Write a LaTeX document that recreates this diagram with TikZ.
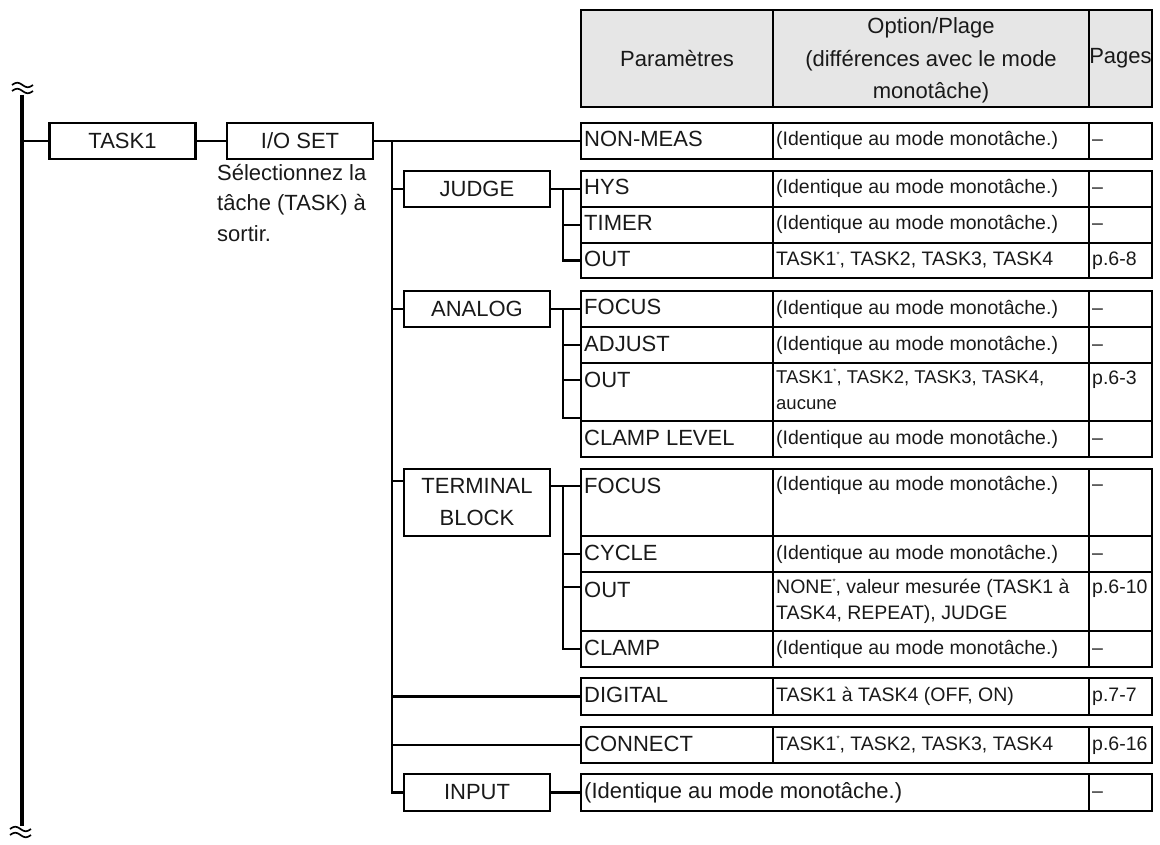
\documentclass[tikz,border=0pt]{standalone}
\usepackage{fontspec}
\setmainfont{Liberation Sans}
\usetikzlibrary{calc}
\definecolor{ink}{RGB}{25,25,25}
\definecolor{hdr}{RGB}{230,230,230}
\newcommand\sast{\raisebox{0.45em}{\fontsize{8}{8}\selectfont*}}
\newcommand\fstrut{\rule{0pt}{20pt}}
% single row macro: name, top, height, param, option, page
\newcommand\srow[6]{%
  \node[cell,minimum width=192pt,minimum height=#3pt] (#1p) at (581,#2) {};
  \node[cell,minimum width=316pt,minimum height=#3pt] (#1o) at (773,#2) {};
  \node[cell,minimum width=63pt,minimum height=#3pt] (#1g) at (1089,#2) {};
  \node[ptxt] (#1pt) at ($(#1p.north west)+(3,24)$) {#4};
  \node[otxt] (#1ot) at ($(#1o.north west)+(3,23)$) {#5};
  \node[otxt] (#1gt) at ($(#1g.north west)+(3,23)$) {#6};
}
% break mark (two tildes) centred at given point
\newcommand\brkmark[2]{%
  \draw[line width=1.7pt] plot[domain=0:21, samples=40, smooth] ({#1-10.5+\x},{#2-3-2.2*sin(\x/21*360)});
  \draw[line width=1.7pt] plot[domain=0:21, samples=40, smooth] ({#1-10.5+\x},{#2+3-2.2*sin(\x/21*360)});
}
\begin{document}
\begin{tikzpicture}[x=1pt,y=-1pt,
  box/.style={draw, line width=2.6pt, inner sep=0pt, outer sep=0pt, minimum width=146pt, minimum height=36pt, font=\fontsize{22}{32}\selectfont, text=ink, align=center},
  cell/.style={draw, line width=2.8pt, inner sep=0pt, outer sep=0pt, anchor=north west},
  ptxt/.style={anchor=base west, inner sep=0pt, text=ink, font=\fontsize{22}{30}\selectfont},
  otxt/.style={anchor=base west, inner sep=0pt, text=ink, font=\fontsize{19.5}{26}\selectfont},
  otall/.style={anchor=north west, inner sep=0pt, text=ink, align=left, font=\fontsize{19.5}{26}\selectfont},
  htxt/.style={inner sep=0pt, text=ink, align=center, font=\fontsize{22}{32.5}\selectfont},
  wire/.style={line width=2.4pt},
]
\useasboundingbox (0,0) rectangle (1160,845);

% header
\node[cell,fill=hdr,minimum width=192pt,minimum height=97pt] (h1) at (581,10) {};
\node[cell,fill=hdr,minimum width=316pt,minimum height=97pt] (h2) at (773,10) {};
\node[cell,fill=hdr,minimum width=63pt,minimum height=97pt] (h3) at (1089,10) {};
\node[htxt] (h1t) at (h1.center) {Paramètres};
\node[htxt] (h2t) at ($(h2.center)+(0,2)$) {Option/Plage\\(différences avec le mode\\monotâche)};
\node[htxt] (h3t) at (h3.center) {Pages};

% rows
\srow{nm}{123}{36}{NON-MEAS}{(Identique au mode monotâche.)}{\textendash}
\srow{hys}{171}{36}{HYS}{(Identique au mode monotâche.)}{\textendash}
\srow{jtim}{207}{36}{TIMER}{(Identique au mode monotâche.)}{\textendash}
\srow{jout}{243}{35}{OUT}{TASK1\sast, TASK2, TASK3, TASK4}{p.6-8}
\srow{afoc}{291}{36}{FOCUS}{(Identique au mode monotâche.)}{\textendash}
\srow{aadj}{327}{36}{ADJUST}{(Identique au mode monotâche.)}{\textendash}
% analog OUT (tall)
\node[cell,minimum width=192pt,minimum height=58pt] (aoutp) at (581,363) {};
\node[cell,minimum width=316pt,minimum height=58pt] (aouto) at (773,363) {};
\node[cell,minimum width=63pt,minimum height=58pt] (aoutg) at (1089,363) {};
\node[ptxt] (aoutpt) at ($(aoutp.north west)+(3,24)$) {OUT};
\node[otall,font=\fontsize{18.5}{26}\selectfont] (aoutot) at ($(aouto.north west)+(3,0)$) {\fstrut TASK1\sast, TASK2, TASK3, TASK4,\\aucune};
\node[otxt] (aoutgt) at ($(aoutg.north west)+(3,21)$) {p.6-3};
\srow{acl}{421}{36}{CLAMP LEVEL}{(Identique au mode monotâche.)}{\textendash}
% terminal FOCUS (tall)
\node[cell,minimum width=192pt,minimum height=67pt] (tfocp) at (581,469) {};
\node[cell,minimum width=316pt,minimum height=67pt] (tfoco) at (773,469) {};
\node[cell,minimum width=63pt,minimum height=67pt] (tfocg) at (1089,469) {};
\node[ptxt] (tfocpt) at ($(tfocp.north west)+(3,24)$) {FOCUS};
\node[otxt] (tfocot) at ($(tfoco.north west)+(3,21)$) {(Identique au mode monotâche.)};
\node[otxt] (tfocgt) at ($(tfocg.north west)+(3,21)$) {\textendash};
\srow{tcyc}{536}{36}{CYCLE}{(Identique au mode monotâche.)}{\textendash}
% terminal OUT (tall)
\node[cell,minimum width=192pt,minimum height=59pt] (toutp) at (581,572) {};
\node[cell,minimum width=316pt,minimum height=59pt] (touto) at (773,572) {};
\node[cell,minimum width=63pt,minimum height=59pt] (toutg) at (1089,572) {};
\node[ptxt] (toutpt) at ($(toutp.north west)+(3,25)$) {OUT};
\node[otall] (toutot) at ($(touto.north west)+(3,1)$) {\fstrut NONE\sast, valeur mesurée (TASK1 à\\TASK4, REPEAT), JUDGE};
\node[otxt] (toutgt) at ($(toutg.north west)+(3,21)$) {p.6-10};
\srow{tcl}{631}{36}{CLAMP}{(Identique au mode monotâche.)}{\textendash}
\srow{dig}{678}{37}{DIGITAL}{TASK1 à TASK4 (OFF, ON)}{p.7-7}
\srow{con}{727}{36}{CONNECT}{TASK1\sast, TASK2, TASK3, TASK4}{p.6-16}
% INPUT merged row
\node[cell,minimum width=508pt,minimum height=37pt] (inm) at (581,774) {};
\node[cell,minimum width=63pt,minimum height=37pt] (ing) at (1089,774) {};
\node[ptxt] (inmt) at ($(inm.north west)+(3,24)$) {(Identique au mode monotâche.)};
\node[otxt] (ingt) at ($(ing.north west)+(3,23)$) {\textendash};

% left boxes
\node[box] (task) at (122.5,141) {TASK1};
\node[box] (ioset) at (300,141) {I/O SET};
\node[anchor=north west, inner sep=0pt, align=left, text=ink, font=\fontsize{22}{30.5}\selectfont] (sel) at (217,164) {Sélectionnez la\\tâche (TASK) à\\sortir.};
\node[box] (judge) at (477,189) {JUDGE};
\node[box] (analog) at (477,309) {ANALOG};
\node[box,minimum height=67pt] (term) at (477,502.5) {TERMINAL\\BLOCK};
\node[box,minimum height=37pt] (inputb) at (477,792.5) {INPUT};

% main bar
\coordinate (mtop) at (22,95);
\coordinate (mbot) at (22,826);
\draw[line width=3.4pt] (mtop) -- (mbot);
\brkmark{22.5}{88}
\brkmark{20.5}{832}
\draw[wire] (task.west -| mtop) -- (task.west);
\draw[wire] (task.east) -- (ioset.west);
\draw[wire] (ioset.east) -- (nmp.west);

% bus
\coordinate (bus) at (392,141);
\draw[wire] (bus) |- (inputb.west);
\draw[wire] (bus |- judge.west) -- (judge.west);
\draw[wire] (bus |- analog.west) -- (analog.west);
\coordinate (tl) at (392,481);
\draw[wire] (tl) -- (tl -| term.west);
\draw[wire] (bus |- digp.west) -- (digp.west);
\draw[wire] (bus |- conp.west) -- (conp.west);
\draw[wire] (inputb.east) -- (inm.west |- inputb.east);

% judge sub-bus
\coordinate (jb) at (563,189);
\draw[wire] (judge.east) -- (hysp.west);
\draw[wire] (jb) |- (joutp.west);
\draw[wire] (jb |- jtimp.west) -- (jtimp.west);

% analog sub-bus
\coordinate (ab) at (563,309);
\coordinate (aoutk) at ($(aoutp.north west)+(0,17)$);
\coordinate (aend) at ($(aoutp.south west)+(0,-3)$);
\draw[wire] (analog.east) -- (afocp.west);
\draw[wire] (ab) |- (aend);
\draw[wire] (ab |- aadjp.west) -- (aadjp.west);
\draw[wire] (ab |- aoutk) -- (aoutk);

% terminal sub-bus
\coordinate (tb) at (563,486);
\coordinate (toutk) at ($(toutp.north west)+(0,15)$);
\draw[wire] (term.east |- tb) -- (tb -| tfocp.west);
\draw[wire] (tb) |- (tclp.west);
\draw[wire] (tb |- tcycp.west) -- (tcycp.west);
\draw[wire] (tb |- toutk) -- (toutk);
\end{tikzpicture}
\end{document}
